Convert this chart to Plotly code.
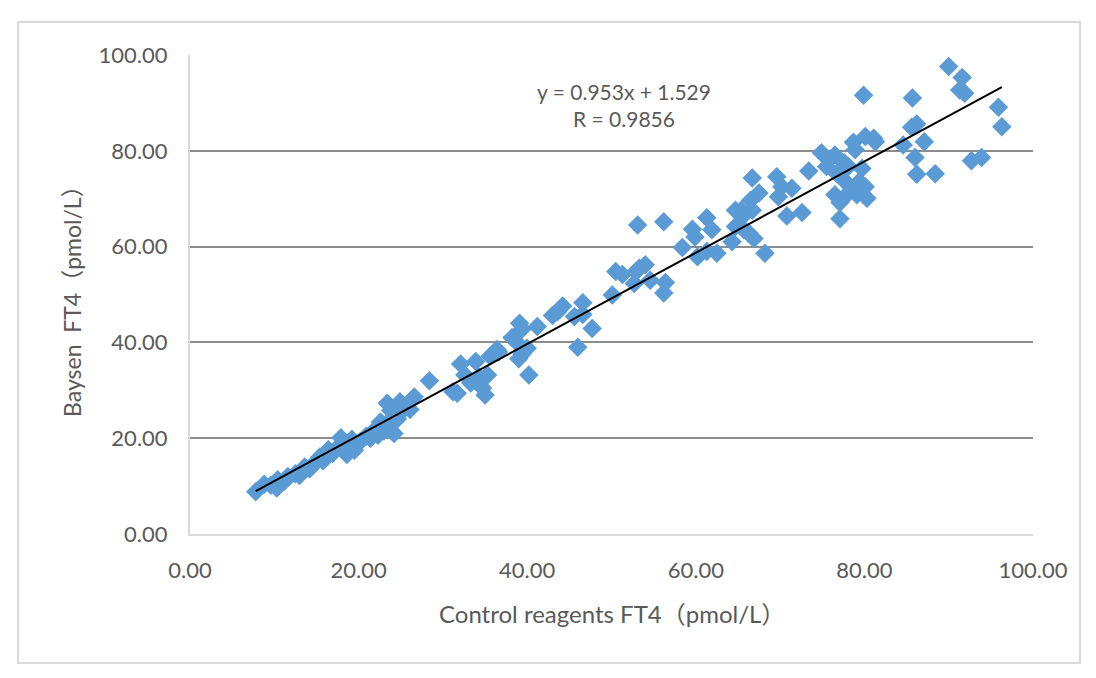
import plotly.graph_objects as go

# Control reagents FT4 (x) and Baysen FT4 (y), pmol/L
control_ft4 = [
    7.8, 8.8, 9.6, 10.3, 10.4, 11.2, 11.6, 12.5, 13.0, 13.6, 14.2, 14.8, 15.4, 15.8,
    16.4, 16.9, 17.6, 17.9, 18.6, 18.7, 19.2, 20.2, 20.9, 21.6, 22.3, 23.0, 23.4, 23.2,
    23.8, 24.2, 24.6, 24.9, 25.5, 26.1, 26.6, 22.6, 21.4, 19.5, 14.5,
    28.4, 31.2, 31.7, 32.1, 32.6, 33.3, 33.9, 34.3, 34.7, 35.0, 35.3, 35.6, 36.4, 36.6,
    38.2, 38.6, 39.1, 39.4, 39.4, 40.0, 39.0, 40.2, 41.2, 43.0, 43.6, 44.2, 45.6, 46.0,
    46.6, 46.6, 47.7,
    50.1, 50.5, 51.3, 52.9, 52.7, 53.1, 53.3, 54.0, 54.6, 56.2, 56.4, 56.2,
    58.4, 59.6, 59.9, 60.2, 61.3, 61.3, 61.9, 62.5, 64.3, 64.7, 64.7, 65.5, 65.4, 65.7,
    66.3, 66.9, 66.7, 66.5, 66.7, 67.5, 68.2,
    69.6, 70.2, 71.4, 69.8, 70.8, 72.6, 73.4, 74.9, 75.5, 76.5, 76.7, 76.5, 77.1, 77.1,
    78.1, 78.5, 78.9, 78.7, 79.7, 79.1, 80.3, 80.1, 79.9, 80.1, 81.3, 81.1, 77.6, 78.0,
    79.4, 75.8, 77.6,
    84.6, 85.7, 86.2, 85.6, 87.1, 86.0, 86.2, 88.4,
    90.0, 91.6, 91.3, 91.9, 95.9, 96.3, 92.7, 93.9,
]
baysen_ft4 = [
    8.8, 10.4, 10.2, 9.6, 11.3, 11.0, 12.0, 12.6, 12.2, 14.0, 13.6, 14.8, 16.1, 15.3,
    17.6, 16.8, 18.2, 20.1, 16.6, 18.9, 19.8, 19.3, 20.4, 21.2, 20.6, 21.5, 27.3, 22.8,
    25.8, 21.0, 24.0, 27.6, 26.3, 26.0, 28.6, 23.4, 20.0, 17.5, 14.2,
    32.0, 29.7, 29.4, 35.5, 33.2, 31.5, 36.0, 32.8, 30.5, 29.0, 33.2, 37.1, 38.5, 38.0,
    41.0, 40.3, 44.0, 42.8, 37.6, 38.8, 36.6, 33.2, 43.3, 45.6, 46.4, 47.6, 45.4, 39.0,
    48.3, 45.8, 42.9,
    49.9, 54.8, 54.2, 54.8, 52.3, 64.5, 55.5, 56.2, 53.0, 65.2, 52.5, 50.3,
    59.8, 63.6, 62.0, 57.9, 66.0, 59.0, 63.5, 58.6, 61.0, 67.6, 64.2, 66.2, 67.6, 63.5,
    62.8, 61.7, 67.6, 69.7, 74.3, 71.2, 58.6,
    74.6, 72.5, 72.2, 70.4, 66.4, 67.1, 75.8, 79.6, 76.7, 79.1, 75.3, 70.8, 69.2, 65.8,
    76.7, 72.2, 80.2, 81.8, 76.3, 70.8, 70.1, 83.0, 91.6, 72.5, 81.9, 82.6, 73.8, 71.0,
    73.6, 78.2, 77.5,
    81.2, 91.0, 85.6, 84.9, 81.9, 78.6, 75.1, 75.2,
    97.6, 95.3, 92.7, 92.0, 89.1, 85.0, 77.9, 78.6,
]

slope = 0.953
intercept = 1.529
r_value = 0.9856

axis_ticks = [0, 20, 40, 60, 80, 100]
x_title = "Control reagents FT4（pmol/L）"
y_title = "Baysen  FT4（pmol/L）"

FONT = "Lato, 'Noto Sans CJK SC', sans-serif"
TXT = "#595959"

x_line = [min(control_ft4), max(control_ft4)]
y_line = [slope * v + intercept for v in x_line]

fig = go.Figure()
fig.add_trace(go.Scatter(
    x=control_ft4, y=baysen_ft4, mode="markers",
    marker=dict(symbol="diamond", size=15, color="#5B9BD5", line=dict(width=0)),
    showlegend=False, hoverinfo="x+y",
))
fig.add_trace(go.Scatter(
    x=x_line, y=y_line, mode="lines",
    line=dict(color="black", width=2), showlegend=False,
))

fig.add_annotation(
    x=51.5, y=89.6, xref="x", yref="y",
    text=f"y = {slope}x + {intercept}<br>R = {r_value}",
    showarrow=False, align="center",
    font=dict(family=FONT, size=21, color=TXT),
)
fig.add_annotation(
    x=0.5006, y=-0.167, xref="paper", yref="paper", text=x_title,
    showarrow=False, font=dict(family=FONT, size=24, color=TXT),
    xanchor="center", yanchor="middle",
)
fig.add_annotation(
    x=-0.140, y=0.499, xref="paper", yref="paper", text=y_title,
    showarrow=False, textangle=-90, font=dict(family=FONT, size=23, color=TXT),
    xanchor="center", yanchor="middle",
)

# outer chart border
fig.add_shape(
    type="rect", xref="paper", yref="paper",
    x0=-0.204, x1=1.0558, y0=-0.2693, y1=1.0689,
    line=dict(color="#D9D9D9", width=2), fillcolor="rgba(0,0,0,0)", layer="below",
)

fig.update_layout(
    width=1096, height=678,
    margin=dict(l=182, r=71, t=47, b=152),
    paper_bgcolor="white", plot_bgcolor="white",
    font=dict(family=FONT, color=TXT),
)
fig.update_xaxes(
    range=[0, 100], tickvals=axis_ticks, tickformat=".2f",
    showgrid=False, zeroline=False,
    showline=True, linecolor="#D9D9D9", linewidth=2,
    ticks="", ticklabelstandoff=16,
    tickfont=dict(family=FONT, size=22, color=TXT),
)
fig.update_yaxes(
    range=[0, 100], tickvals=axis_ticks, tickformat=".2f",
    showgrid=True, gridcolor="#8C8C8C", gridwidth=2, zeroline=False,
    showline=True, linecolor="#D9D9D9", linewidth=2,
    ticks="", ticklabelstandoff=16,
    tickfont=dict(family=FONT, size=22, color=TXT),
)

fig.write_html("out.html")
